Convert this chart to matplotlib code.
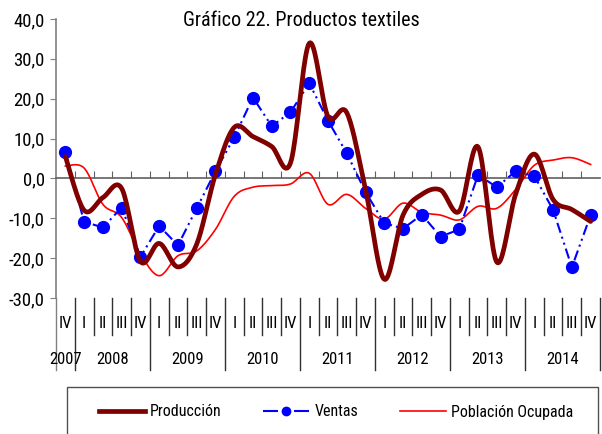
"""
Gráfico 22. Productos textiles — variación interanual por trimestre
"""

import numpy as np
import matplotlib
matplotlib.use("Agg")
import matplotlib.pyplot as plt
from matplotlib import font_manager as fm
from matplotlib.lines import Line2D
from matplotlib.patches import Rectangle

quarters = ["IV",
            "I", "II", "III", "IV",
            "I", "II", "III", "IV",
            "I", "II", "III", "IV",
            "I", "II", "III", "IV",
            "I", "II", "III", "IV",
            "I", "II", "III", "IV",
            "I", "II", "III", "IV"]
years = ["2007", "2008", "2009", "2010", "2011", "2012", "2013", "2014"]

produccion = [5.5, -8.0, -4.8, -2.5, -20.8, -16.3, -22.2, -16.5, 1.0,
              12.8, 10.5, 8.0, 3.9, 33.9, 15.5, 16.5, -2.8,
              -25.3, -9.2, -4.0, -2.9, -8.2, 7.9, -21.0, -4.0,
              6.1, -5.3, -7.8, -10.8]
ventas = [6.6, -10.9, -12.3, -7.3, -19.7, -11.9, -16.8, -7.5, 1.8,
          10.3, 20.3, 13.1, 16.6, 23.9, 14.5, 6.3, -3.4,
          -11.2, -12.6, -9.1, -14.6, -12.8, 0.9, -2.2, 1.8,
          0.6, -7.9, -22.3, -9.2]
poblacion = [3.1, 2.6, -6.5, -9.8, -19.0, -24.4, -19.4, -18.2, -12.8,
             -4.5, -2.2, -1.8, -1.4, 1.3, -6.5, -4.0, -7.5,
             -10.2, -6.2, -8.5, -9.2, -10.4, -7.0, -7.5, -2.8,
             3.3, 4.6, 5.2, 3.5]


def pick_narrow_font():
    # buscar una fuente estrecha (tipo Arial Narrow); si no hay, Liberation Sans
    candidates = [("Liberation Sans Narrow", "normal"), ("Arial Narrow", "normal"),
                  ("Roboto Condensed", "normal"), ("DejaVu Sans", "condensed"),
                  ("Noto Sans", "condensed")]
    for fam, stretch in candidates:
        try:
            path = fm.findfont(fm.FontProperties(family=fam, stretch=stretch),
                               fallback_to_default=False)
        except ValueError:
            continue
        low = path.lower()
        if "narrow" in low or "condensed" in low:
            fm.fontManager.addfont(path)
            name = fm.FontProperties(fname=path).get_name()
            return name, stretch, 1.0
    return "Liberation Sans", "normal", 0.85


FONT, STRETCH, SCALE = pick_narrow_font()
plt.rcParams["font.family"] = [FONT, "DejaVu Sans"]
plt.rcParams["font.stretch"] = STRETCH


def fs(size):
    return size * SCALE


def smooth(values, steps=20):
    # curva suavizada tipo Excel (Catmull-Rom)
    y = np.asarray(values, dtype=float)
    x = np.arange(len(y), dtype=float)
    px = np.concatenate([[x[0]], x, [x[-1]]])
    py = np.concatenate([[y[0]], y, [y[-1]]])
    xs, ys = [], []
    t = np.linspace(0, 1, steps, endpoint=False)
    for i in range(1, len(px) - 2):
        for p, out in ((px, xs), (py, ys)):
            p0, p1, p2, p3 = p[i - 1], p[i], p[i + 1], p[i + 2]
            c1 = p1 + (p2 - p0) / 6
            c2 = p2 - (p3 - p1) / 6
            out.append((1 - t) ** 3 * p1 + 3 * (1 - t) ** 2 * t * c1
                       + 3 * (1 - t) * t ** 2 * c2 + t ** 3 * p2)
    xs.append([x[-1]])
    ys.append([y[-1]])
    return np.concatenate(xs), np.concatenate(ys)


def draw_axes(ax):
    n = len(quarters)
    ax.set_xlim(-0.5, n - 0.5)
    ax.set_ylim(-30, 40)
    ax.set_yticks(np.arange(-30, 41, 10))
    ax.set_yticklabels([f"{v:.1f}".replace(".", ",") for v in np.arange(-30, 41, 10)],
                       fontsize=fs(13.5))
    ax.tick_params(axis="y", direction="out", length=4, color="#808080", pad=4)

    for s in ("top", "right"):
        ax.spines[s].set_visible(False)
    ax.spines["left"].set_color("#808080")
    ax.spines["left"].set_linewidth(1.2)
    ax.spines["bottom"].set_position(("data", 0))
    ax.spines["bottom"].set_color("#606060")
    ax.spines["bottom"].set_linewidth(1.2)
    ax.set_xticks(np.arange(0.5, n - 0.5, 1))
    ax.set_xticklabels([])
    ax.tick_params(axis="x", direction="in", length=5, color="#606060")

    # zona de etiquetas trimestre / año debajo del gráfico
    tr = ax.get_xaxis_transform()
    year_bounds = [-0.5, 0.5, 4.5, 8.5, 12.5, 16.5, 20.5, 24.5, 28.5]
    for b in np.arange(-0.5, n, 1):
        low = -0.258 if b in year_bounds else -0.133
        col = "#808080" if b == -0.5 else "#303030"
        ax.plot([b, b], [0, low], transform=tr, color=col, lw=1.0, clip_on=False)
    for i, q in enumerate(quarters):
        ax.text(i, -0.09, q, transform=tr, ha="center", va="center", fontsize=fs(12))
    year_pos = [0, 2.5, 6.5, 10.5, 14.5, 18.5, 22.5, 26.5]
    for xp, yr in zip(year_pos, years):
        ax.text(xp, -0.219, yr, transform=tr, ha="center", va="center", fontsize=fs(12))


def main():
    fig = plt.figure(figsize=(6.02, 4.34), dpi=100)
    ax = fig.add_axes([56 / 602, 1 - 298 / 434, 544 / 602, 279 / 434])
    draw_axes(ax)

    x = np.arange(len(quarters))
    sx, sy = smooth(poblacion)
    ax.plot(sx, sy, color="#FF0000", lw=1.2, zorder=3)
    ax.plot(x, ventas, color="#0000FF", lw=1.5, dashes=(5, 2, 1, 2, 1, 2),
            marker="o", markersize=8.5, zorder=4)
    sx, sy = smooth(produccion)
    ax.plot(sx, sy, color="#800000", lw=3.4, zorder=5, solid_capstyle="round")

    fig.text(0.5, 1 - 20 / 434, "Gráfico 22. Productos textiles",
             ha="center", va="center", fontsize=fs(14.5))

    # leyenda
    fig.patches.append(Rectangle((67 / 602, -0.05), 531 / 602, 0.05 + (434 - 387) / 434,
                                 transform=fig.transFigure, fill=False,
                                 edgecolor="#505050", lw=1.0))
    handles = [
        Line2D([], [], color="#800000", lw=3.4),
        Line2D([], [], color="#0000FF", lw=1.5, dashes=(7.2, 7.7), marker="o", markersize=6),
        Line2D([], [], color="#FF0000", lw=1.2),
    ]
    fig.legend(handles, ["Producción", "Ventas", "Población Ocupada"],
               loc="center", bbox_to_anchor=(336 / 602, 1 - 412 / 434), ncol=3,
               frameon=False, fontsize=fs(11.5), handlelength=2.9, handletextpad=0.3,
               columnspacing=2.6)

    plt.savefig("out.png", dpi=100)


if __name__ == "__main__":
    main()
